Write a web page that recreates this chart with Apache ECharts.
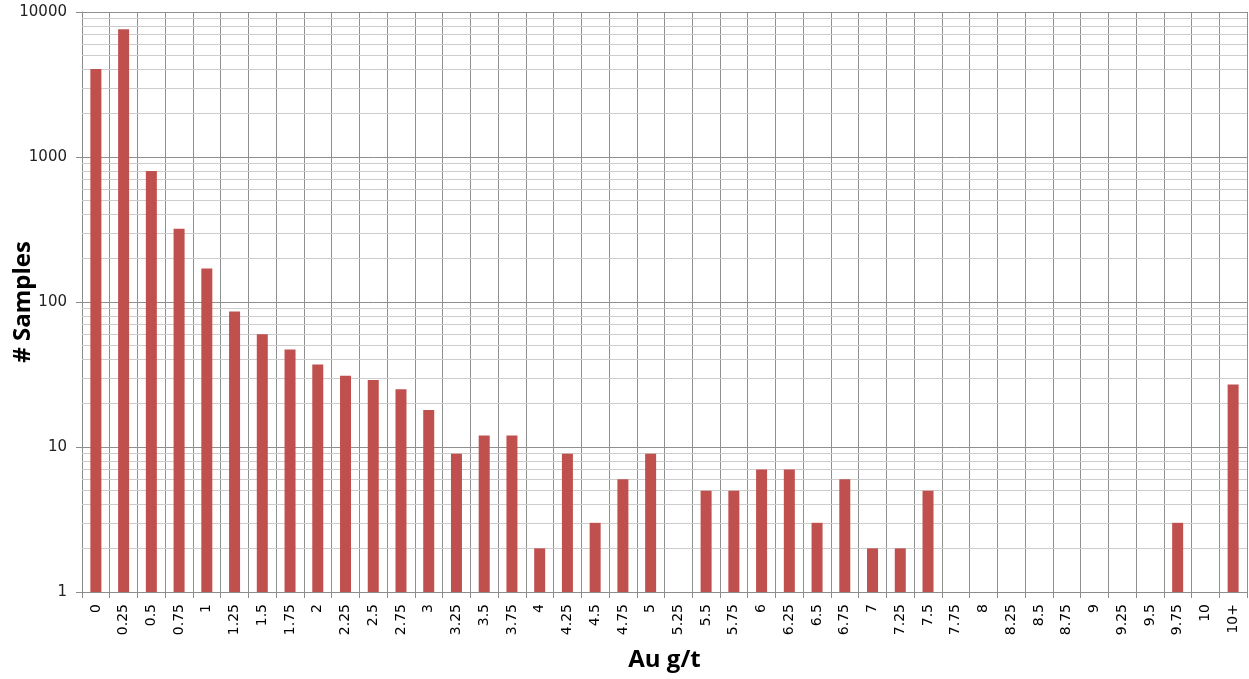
<!DOCTYPE html>
<html><head><meta charset="utf-8">
<script src="https://cdn.jsdelivr.net/npm/echarts@6/dist/echarts.min.js"></script>
<style>html,body{margin:0;padding:0;background:#fff}#c{width:1249px;height:679px}</style>
</head><body><div id="c"></div>
<script>
const categories = ['0','0.25','0.5','0.75','1','1.25','1.5','1.75','2','2.25','2.5','2.75','3','3.25','3.5','3.75','4','4.25','4.5','4.75','5','5.25','5.5','5.75','6','6.25','6.5','6.75','7','7.25','7.5','7.75','8','8.25','8.5','8.75','9','9.25','9.5','9.75','10','10+'];
const samples = [4050,7600,800,320,170,86,60,47,37,31,29,25,18,9,12,12,2,9,3,6,9,null,5,5,7,7,3,6,2,2,5,null,null,null,null,null,null,null,null,3,null,27];
const minorGrid = [2,3,4,5,6,7,8,9,20,30,40,50,60,70,80,90,200,300,400,500,600,700,800,900,2000,3000,4000,5000,6000,7000,8000,9000];

const chart = echarts.init(document.getElementById('c'));
chart.setOption({
  animation: false,
  grid: {left: 82, right: 2, top: 12, bottom: 87, containLabel: false, outerBoundsMode: 'none'},
  xAxis: {
    type: 'category', data: categories, boundaryGap: true,
    name: 'Au g/t', nameLocation: 'middle', nameGap: 56, nameMoveOverlap: false,
    nameTextStyle: {fontFamily: 'Open Sans', fontWeight: 'bold', fontSize: 24, color: '#000'},
    axisLine: {lineStyle: {color: '#8c8c8c', width: 1}},
    axisTick: {show: true, length: 6, interval: 0, lineStyle: {color: '#8c8c8c'}},
    axisLabel: {interval: 0, rotate: 90, fontFamily: 'DejaVu Sans', fontSize: 14, color: '#000', margin: 12},
    splitLine: {show: true, interval: 0, lineStyle: {color: '#8f8f8f', width: 1}}
  },
  yAxis: {
    type: 'log', logBase: 10, min: 1, max: 10000,
    name: '# Samples', nameLocation: 'middle', nameGap: 47, nameMoveOverlap: false,
    nameTextStyle: {fontFamily: 'Open Sans', fontWeight: 'bold', fontSize: 24, color: '#000'},
    axisLine: {show: true, lineStyle: {color: '#8c8c8c'}},
    axisTick: {show: true, length: 6, lineStyle: {color: '#8c8c8c'}},
    axisLabel: {fontFamily: 'DejaVu Sans', fontSize: 15, color: '#222', margin: 15, formatter: v => String(Math.round(v))},
    splitLine: {show: true, lineStyle: {color: '#8f8f8f', width: 1}}
  },
  series: [{
    type: 'bar', data: samples, barWidth: 11, z: 3,
    itemStyle: {color: '#C0504D'},
    markLine: {
      z: 1, silent: true, symbol: 'none', animation: false,
      label: {show: false},
      lineStyle: {color: '#cccccc', width: 1, type: 'solid'},
      emphasis: {disabled: true},
      data: minorGrid.map(v => ({yAxis: v}))
    }
  }]
});
</script></body></html>
